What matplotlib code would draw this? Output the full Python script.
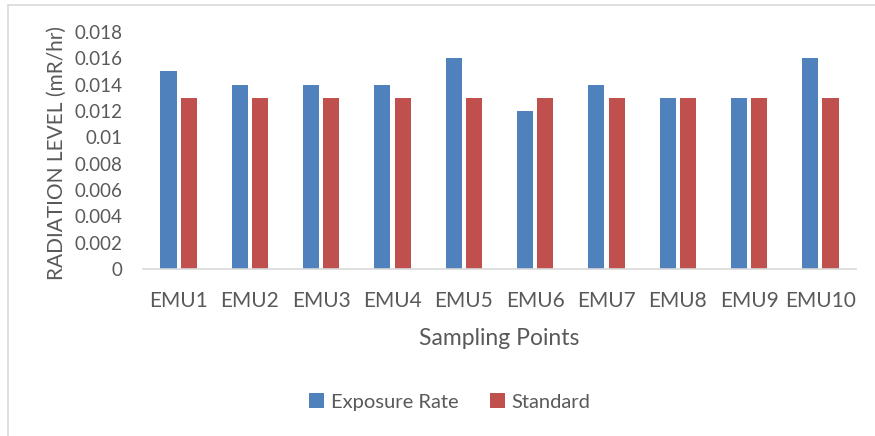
import numpy as np
import matplotlib
matplotlib.use("Agg")
from matplotlib import pyplot as plt
from matplotlib.patches import Rectangle

categories = ["EMU1", "EMU2", "EMU3", "EMU4", "EMU5", "EMU6", "EMU7", "EMU8", "EMU9", "EMU10"]
exposure_rate = [0.015, 0.014, 0.014, 0.014, 0.016, 0.012, 0.014, 0.013, 0.013, 0.016]
standard = [0.013, 0.013, 0.013, 0.013, 0.013, 0.013, 0.013, 0.013, 0.013, 0.013]
yticks = [0, 0.002, 0.004, 0.006, 0.008, 0.01, 0.012, 0.014, 0.016, 0.018]
ytick_labels = ["0", "0.002", "0.004", "0.006", "0.008", "0.01", "0.012", "0.014", "0.016", "0.018"]

plt.rcParams['font.family'] = ['Lato', 'DejaVu Sans']
text_col = "#595959"
blue = "#4f81bd"
red = "#c0504d"

fig = plt.figure(figsize=(8.75, 4.36), dpi=100)
# outer chart frame
fig.patches.append(Rectangle((8 / 875, -0.05), 1.0, (431 / 436) + 0.05, transform=fig.transFigure,
                             fill=False, edgecolor="#d9d9d9", linewidth=1.2))

ax = fig.add_axes([143 / 875, 167 / 436, 713 / 875, 237 / 436])
x = np.arange(len(categories))
w = 0.225
ax.bar(x - w / 2 - 0.03, exposure_rate, w, color=blue, label="Exposure Rate")
ax.bar(x + w / 2 + 0.03, standard, w, color=red, label="Standard")

ax.set_xlim(-0.5, len(categories) - 0.5)
ax.set_ylim(0, 0.018)
ax.set_yticks(yticks)
ax.set_yticklabels(ytick_labels)
ax.set_xticks(x)
ax.set_xticklabels(categories)
ax.tick_params(axis="y", length=0, labelsize=13.5, colors=text_col, pad=15)
ax.tick_params(axis="x", length=0, labelsize=15, colors=text_col, pad=16)
for s in ["top", "right", "left"]:
    ax.spines[s].set_visible(False)
ax.spines["bottom"].set_color("#d9d9d9")
ax.spines["bottom"].set_linewidth(1.2)

ax.set_xlabel("Sampling Points", fontsize=16.5, color=text_col, labelpad=12)
# y title placed directly, centred on its box
fig.text(57 / 875, 1 - 153 / 436, "RADIATION LEVEL (mR/hr)", rotation=90, ha="center", va="center",
         fontsize=15, color=text_col)

fig.legend(loc="center", bbox_to_anchor=(450 / 875, 1 - 402 / 436), ncol=2, frameon=False,
           fontsize=14.5, labelcolor=text_col, handlelength=0.7, handleheight=0.7,
           handletextpad=0.35, columnspacing=1.6)

fig.savefig("out.png", dpi=100)
